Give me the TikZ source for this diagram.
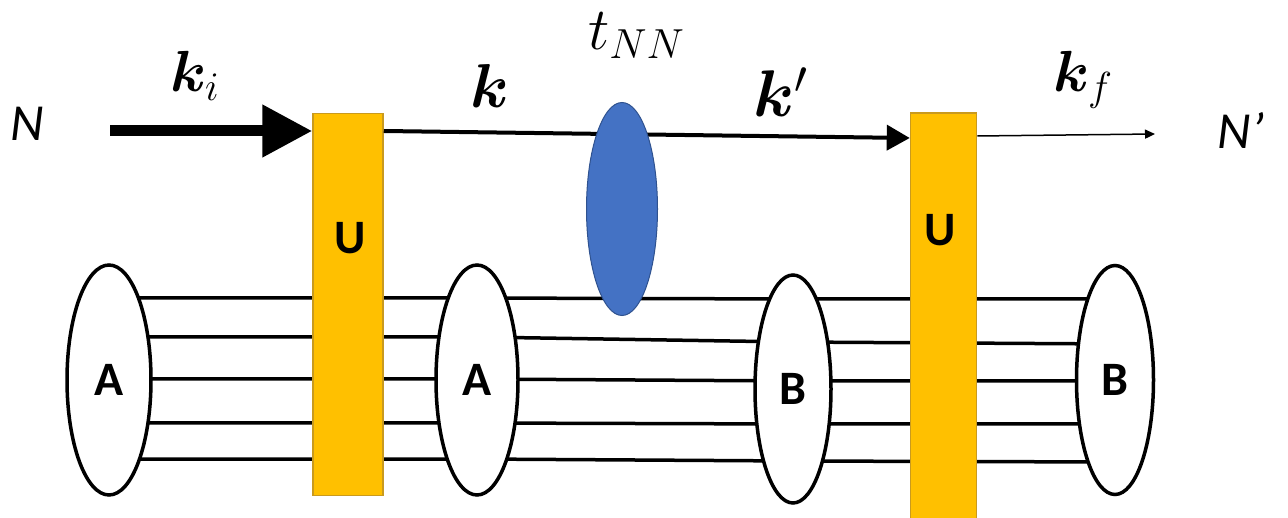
\RequirePackage{fix-cm}
\documentclass[tikz,border=0pt]{standalone}
\usepackage{fontspec}
\usepackage{amsmath}
\usepackage{bm}
\usepackage{tikz}
\usetikzlibrary{arrows.meta,shapes.geometric,backgrounds}
\newfontfamily\calibri{Carlito}
\definecolor{ufill}{HTML}{FFC000}
\definecolor{uedge}{HTML}{C99A1E}
\definecolor{tfill}{HTML}{4472C4}
\definecolor{tedge}{HTML}{2F528F}

\begin{document}
\begin{tikzpicture}[
    x=1pt, y=-1pt,
    strand/.style={line width=3.5pt},
    cluster/.style={
        ellipse,
        draw,
        fill=white,
        line width=3.5pt,
        inner sep=0pt,
        font=\calibri\bfseries\fontsize{48}{50}\selectfont
    },
    ubar/.style={
        rectangle,
        fill=ufill,
        draw=uedge,
        line width=1.5pt,
        inner sep=0pt,
        minimum width=70pt
    },
    ulabel/.style={
        inner sep=0pt,
        font=\calibri\bfseries\fontsize{48}{50}\selectfont
    },
    tmatrix/.style={
        ellipse,
        fill=tfill,
        draw=tedge,
        line width=1pt,
        inner sep=0pt,
        minimum width=71pt,
        minimum height=213pt
    },
    nlabel/.style={
        inner sep=0pt,
        font=\calibri\itshape\fontsize{52}{54}\selectfont
    },
    mlabel/.style={
        inner sep=0pt,
        anchor=base west
    },
    beamin/.style={-{Triangle[length=50pt,width=50pt]}, line width=11pt},
    beammid/.style={-{Triangle[length=23pt,width=25pt]}, line width=4pt},
    beamout/.style={-{Triangle[length=10pt,width=9pt]}, line width=1.5pt}
]
\useasboundingbox (0,0) rectangle (1288,518);

% nuclei
\node[cluster, minimum width=84pt, minimum height=230pt] (a1) at (109,380) {A};
\node[cluster, minimum width=82pt, minimum height=230pt] (a2) at (477,380) {A};
\node[cluster, minimum width=76pt, minimum height=228pt] (b1) at (793,389) {B};
\node[cluster, minimum width=77pt, minimum height=229pt] (b2) at (1115,380) {B};

% nucleon lines
\begin{scope}[on background layer]
\foreach \yl/\ym/\yr in {298/299/299, 337/342/344, 379/381/381, 423/424/424, 459/461/462}
    \draw[strand] (a1.center |- 0,\yl) -- (a2.center |- 0,\yl)
        -- (b1.center |- 0,\ym) -- (b2.center |- 0,\yr);
\end{scope}

% U operators
\node[ubar, minimum height=382pt] (u1) at (348,304.5) {};
\node[ubar, minimum width=66pt, minimum height=410pt] (u2) at (943.5,318) {};
\node[ulabel] (ulab1) at (350,238) {U};
\node[ulabel] (ulab2) at (940,230) {U};

% projectile
\coordinate (nin) at (110,131);
\coordinate (nout) at (1155,134);
\draw[beamin] (nin) -- (u1.west |- nin);
\draw[beammid] (u1.east |- 0,131) -- (u2.west |- 0,138);
\draw[beamout] (u2.east |- 0,136) -- (nout);

\node[tmatrix] (tnn) at (622,209) {};

% labels
\node[nlabel] (nleft) at (27,124) {N};
\node[nlabel] (nright) at (1241,130) {N’};
\node[mlabel, font=\fontsize{58}{60}\selectfont] (lki) at (170,92) {$\bm{k}_i$};
\node[mlabel, font=\fontsize{62}{64}\selectfont] (lk) at (470,108) {$\bm{k}$};
\node[mlabel, font=\fontsize{60}{62}\selectfont] (ltnn) at (588,50) {$t_{NN}$};
\node[mlabel, font=\fontsize{66}{68}\selectfont] (lkp) at (753,117) {$\bm{k}'$};
\node[mlabel, font=\fontsize{58}{60}\selectfont] (lkf) at (1053,92) {$\bm{k}_f$};

\end{tikzpicture}
\end{document}
